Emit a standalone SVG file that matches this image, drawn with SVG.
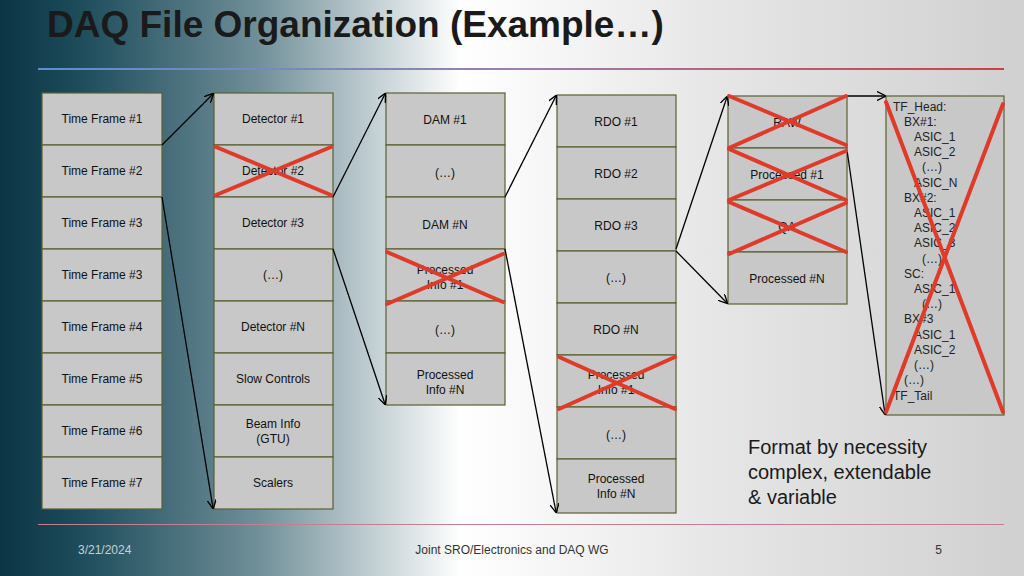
<svg xmlns="http://www.w3.org/2000/svg" width="1024" height="576" viewBox="0 0 1024 576">
<defs>
<linearGradient id="bg" x1="0" y1="0" x2="1" y2="0">
<stop offset="0" stop-color="#0b3444"/><stop offset="0.08" stop-color="#1e4d5c"/><stop offset="0.25" stop-color="#6f8e98"/><stop offset="0.45" stop-color="#ffffff"/><stop offset="0.7" stop-color="#e6e6e6"/><stop offset="1" stop-color="#d0d0d0"/>
</linearGradient>
<linearGradient id="hl" x1="0" y1="0" x2="1" y2="0">
<stop offset="0" stop-color="#5b8fd0"/><stop offset="0.5" stop-color="#9b7fb0"/><stop offset="1" stop-color="#d04040"/>
</linearGradient>
<marker id="ah" viewBox="0 0 10 10" refX="9" refY="5" markerWidth="7" markerHeight="7" orient="auto"><path d="M0,0 L10,5 L0,10" fill="none" stroke="#000" stroke-width="1.5"/></marker>
<style>
.b{fill:#c8c8c8;stroke:#5a6030;stroke-width:1.2}
.t{font-family:"Liberation Sans",Arial,sans-serif;font-size:12px;fill:#111;text-anchor:middle}
.x{stroke:#e03a2a;stroke-width:4;stroke-linecap:round}
.c{stroke:#000;stroke-width:1.3;fill:none;marker-end:url(#ah)}
.f{font-family:"Liberation Sans",Arial,sans-serif;font-size:12px;fill:#222}
</style>
</defs>
<rect width="1024" height="576" fill="url(#bg)"/>
<text x="47" y="37" font-family="Liberation Sans,Arial,sans-serif" font-size="37" font-weight="bold" fill="#1a1a1a">DAQ File Organization (Example…)</text>
<rect x="38" y="68" width="966" height="2" fill="url(#hl)"/>
<rect x="38" y="524" width="966" height="1" fill="#c08090"/>
<g id="col1">
<rect class="b" x="42" y="93" width="120" height="52"/><text class="t" x="102" y="123">Time Frame #1</text>
<rect class="b" x="42" y="145" width="120" height="52"/><text class="t" x="102" y="175">Time Frame #2</text>
<rect class="b" x="42" y="197" width="120" height="52"/><text class="t" x="102" y="227">Time Frame #3</text>
<rect class="b" x="42" y="249" width="120" height="52"/><text class="t" x="102" y="279">Time Frame #3</text>
<rect class="b" x="42" y="301" width="120" height="52"/><text class="t" x="102" y="331">Time Frame #4</text>
<rect class="b" x="42" y="353" width="120" height="52"/><text class="t" x="102" y="383">Time Frame #5</text>
<rect class="b" x="42" y="405" width="120" height="52"/><text class="t" x="102" y="435">Time Frame #6</text>
<rect class="b" x="42" y="457" width="120" height="52"/><text class="t" x="102" y="487">Time Frame #7</text>
</g>
<g id="col2">
<rect class="b" x="214" y="93" width="119" height="52"/><text class="t" x="273" y="123">Detector #1</text>
<rect class="b" x="214" y="145" width="119" height="52"/><text class="t" x="273" y="175">Detector #2</text>
<rect class="b" x="214" y="197" width="119" height="52"/><text class="t" x="273" y="227">Detector #3</text>
<rect class="b" x="214" y="249" width="119" height="52"/><text class="t" x="273" y="279">(…)</text>
<rect class="b" x="214" y="301" width="119" height="52"/><text class="t" x="273" y="331">Detector #N</text>
<rect class="b" x="214" y="353" width="119" height="52"/><text class="t" x="273" y="383">Slow Controls</text>
<rect class="b" x="214" y="405" width="119" height="52"/><text class="t" x="273" y="428">Beam Info</text><text class="t" x="273" y="443">(GTU)</text>
<rect class="b" x="214" y="457" width="119" height="52"/><text class="t" x="273" y="487">Scalers</text>
</g>
<g id="col3">
<rect class="b" x="386" y="93" width="119" height="52"/><text class="t" x="445" y="124">DAM #1</text>
<rect class="b" x="386" y="145" width="119" height="52"/><text class="t" x="445" y="177">(…)</text>
<rect class="b" x="386" y="197" width="119" height="52"/><text class="t" x="445" y="229">DAM #N</text>
<rect class="b" x="386" y="249" width="119" height="52"/><text class="t" x="445" y="274">Processed</text><text class="t" x="445" y="289">Info #1</text>
<rect class="b" x="386" y="301" width="119" height="52"/><text class="t" x="445" y="334">(…)</text>
<rect class="b" x="386" y="353" width="119" height="52"/><text class="t" x="445" y="379">Processed</text><text class="t" x="445" y="394">Info #N</text>
</g>
<g id="col4">
<rect class="b" x="557" y="95" width="119" height="52"/><text class="t" x="616" y="126">RDO #1</text>
<rect class="b" x="557" y="147" width="119" height="52"/><text class="t" x="616" y="178">RDO #2</text>
<rect class="b" x="557" y="199" width="119" height="52"/><text class="t" x="616" y="230">RDO #3</text>
<rect class="b" x="557" y="251" width="119" height="52"/><text class="t" x="616" y="282">(…)</text>
<rect class="b" x="557" y="303" width="119" height="52"/><text class="t" x="616" y="334">RDO #N</text>
<rect class="b" x="557" y="355" width="119" height="52"/><text class="t" x="616" y="379">Processed</text><text class="t" x="616" y="394">Info #1</text>
<rect class="b" x="557" y="407" width="119" height="52"/><text class="t" x="616" y="439">(…)</text>
<rect class="b" x="557" y="459" width="119" height="54"/><text class="t" x="616" y="483">Processed</text><text class="t" x="616" y="498">Info #N</text>
</g>
<g id="col5">
<rect class="b" x="728" y="96" width="119" height="52"/><text class="t" x="787" y="127">RAW</text>
<rect class="b" x="728" y="148" width="119" height="52"/><text class="t" x="787" y="179">Processed #1</text>
<rect class="b" x="728" y="200" width="119" height="52"/><text class="t" x="787" y="231">QA</text>
<rect class="b" x="728" y="252" width="119" height="52"/><text class="t" x="787" y="283">Processed #N</text>
</g>
<g id="col6">
<rect class="b" x="886" y="96" width="118" height="319"/>
<g class="f">
<text x="893" y="111">TF_Head:</text>
<text x="904" y="126">BX#1:</text>
<text x="914" y="141">ASIC_1</text>
<text x="914" y="156">ASIC_2</text>
<text x="922" y="171">(…)</text>
<text x="914" y="187">ASIC_N</text>
<text x="904" y="202">BX#2:</text>
<text x="914" y="217">ASIC_1</text>
<text x="914" y="232">ASIC_2</text>
<text x="914" y="247">ASIC_3</text>
<text x="922" y="263">(…)</text>
<text x="904" y="278">SC:</text>
<text x="914" y="293">ASIC_1</text>
<text x="922" y="308">(…)</text>
<text x="904" y="323">BX#3</text>
<text x="914" y="339">ASIC_1</text>
<text x="914" y="354">ASIC_2</text>
<text x="914" y="369">(…)</text>
<text x="904" y="384">(…)</text>
<text x="893" y="400">TF_Tail</text>
</g>
</g>
<g id="connectors">
<line class="c" x1="162" y1="145" x2="213" y2="94"/>
<line class="c" x1="162" y1="197" x2="213" y2="508"/>
<line class="c" x1="333" y1="197" x2="385" y2="94"/>
<line class="c" x1="333" y1="249" x2="385" y2="404"/>
<line class="c" x1="505" y1="197" x2="556" y2="96"/>
<line class="c" x1="505" y1="249" x2="556" y2="512"/>
<line class="c" x1="676" y1="249" x2="727" y2="97"/>
<line class="c" x1="676" y1="251" x2="727" y2="303"/>
<line class="c" x1="847" y1="96" x2="885" y2="96"/>
<line class="c" x1="847" y1="150" x2="885" y2="414"/>
</g>
<g id="crosses">
<line class="x" x1="216" y1="147" x2="331" y2="195"/><line class="x" x1="216" y1="195" x2="331" y2="147"/>
<line class="x" x1="387" y1="252" x2="503" y2="302"/><line class="x" x1="387" y1="304" x2="503" y2="254"/>
<line class="x" x1="559" y1="357" x2="675" y2="409"/><line class="x" x1="559" y1="409" x2="675" y2="357"/>
<line class="x" x1="729" y1="96" x2="846" y2="145"/><line class="x" x1="729" y1="148" x2="846" y2="96"/>
<line class="x" x1="729" y1="149" x2="846" y2="200"/><line class="x" x1="729" y1="200" x2="846" y2="151"/>
<line class="x" x1="729" y1="202" x2="846" y2="252"/><line class="x" x1="729" y1="254" x2="846" y2="203"/>
<line class="x" x1="886" y1="102" x2="1003" y2="412"/><line class="x" x1="886" y1="412" x2="1003" y2="104"/>
</g>
<g font-family="Liberation Sans,Arial,sans-serif" font-size="20" fill="#1a1a1a">
<text x="748" y="454">Format by necessity</text>
<text x="748" y="479">complex, extendable</text>
<text x="748" y="504">&amp; variable</text>
</g>
<g font-family="Liberation Sans,Arial,sans-serif" font-size="12" fill="#333">
<text x="78" y="554" fill="#c8d0d4">3/21/2024</text>
<text x="512" y="554" text-anchor="middle">Joint SRO/Electronics and DAQ WG</text>
<text x="942" y="554" text-anchor="end">5</text>
</g>
</svg>
